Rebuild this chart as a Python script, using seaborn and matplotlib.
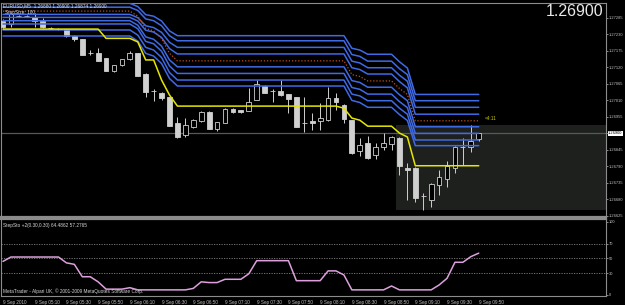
import matplotlib
matplotlib.use("Agg")
import matplotlib.pyplot as plt
import matplotlib.transforms as mtransforms
import seaborn as sns
import numpy as np
import pandas as pd
from matplotlib.patches import Rectangle

# ---------------- data ----------------
bar_times = pd.date_range("2010-09-09 04:50", periods=61, freq="5min")

open_ = [1.27274, 1.27264, 1.27291, 1.27290, 1.27288, 1.27275, 1.27251, 1.27247, 1.27246, 1.27224,
         1.27213, 1.27168, 1.27166, 1.27149, 1.27107, 1.27127, 1.27146, 1.27166, 1.27097, 1.27040,
         1.27035, 1.27019, 1.26932, 1.26893, 1.26919, 1.26941, 1.26969, 1.26913, 1.26934, 1.26982,
         1.26976, 1.26974, 1.27012, 1.27057, 1.27041, 1.27041, 1.27029, 1.27019, 1.26934, 1.26941,
         1.26940, 1.26943, 1.27017, 1.26993, 1.26943, 1.26840, 1.26867, 1.26827, 1.26853, 1.26863,
         1.26883, 1.26783, 1.26783, 1.26690, 1.26676, 1.26726, 1.26746, 1.26783, 1.26853, 1.26853,
         1.26880]
high_ = [1.27281, 1.27301, 1.27294, 1.27294, 1.27300, 1.27283, 1.27253, 1.27249, 1.27248, 1.27227,
         1.27215, 1.27177, 1.27185, 1.27150, 1.27128, 1.27148, 1.27174, 1.27168, 1.27099, 1.27046,
         1.27038, 1.27021, 1.26954, 1.26950, 1.26947, 1.26975, 1.26972, 1.26938, 1.26985, 1.26984,
         1.26978, 1.27049, 1.27077, 1.27060, 1.27046, 1.27077, 1.27031, 1.27021, 1.27019, 1.26967,
         1.27000, 1.27054, 1.27034, 1.26997, 1.26945, 1.26883, 1.26890, 1.26867, 1.26900, 1.26889,
         1.26887, 1.26800, 1.26786, 1.26700, 1.26733, 1.26776, 1.26807, 1.26856, 1.26883, 1.26927,
         1.26900]
low_ = [1.27250, 1.27254, 1.27287, 1.27287, 1.27255, 1.27250, 1.27247, 1.27243, 1.27222, 1.27208,
        1.27159, 1.27160, 1.27140, 1.27106, 1.27104, 1.27125, 1.27144, 1.27089, 1.27021, 1.27008,
        1.27012, 1.26922, 1.26885, 1.26887, 1.26916, 1.26938, 1.26912, 1.26907, 1.26932, 1.26968,
        1.26967, 1.26972, 1.27010, 1.27033, 1.27004, 1.27024, 1.26966, 1.26919, 1.26904, 1.26910,
        1.26910, 1.26940, 1.26977, 1.26933, 1.26830, 1.26823, 1.26813, 1.26813, 1.26843, 1.26843,
        1.26760, 1.26676, 1.26670, 1.26643, 1.26653, 1.26693, 1.26720, 1.26766, 1.26793, 1.26837,
        1.26874]
close_ = [1.27254, 1.27297, 1.27290, 1.27291, 1.27275, 1.27253, 1.27250, 1.27246, 1.27225, 1.27213,
          1.27160, 1.27167, 1.27141, 1.27108, 1.27126, 1.27146, 1.27166, 1.27090, 1.27038, 1.27039,
          1.27016, 1.26923, 1.26886, 1.26927, 1.26943, 1.26971, 1.26914, 1.26936, 1.26982, 1.26970,
          1.26969, 1.27004, 1.27063, 1.27035, 1.27040, 1.27027, 1.27014, 1.26921, 1.26933, 1.26934,
          1.26950, 1.27017, 1.27004, 1.26947, 1.26833, 1.26860, 1.26817, 1.26853, 1.26867, 1.26887,
          1.26790, 1.26776, 1.26683, 1.26689, 1.26730, 1.26753, 1.26790, 1.26853, 1.26854, 1.26873,
          1.26900]

band_1 = [1.27333]*17 + [1.27322, 1.27295, 1.27290, 1.27274, 1.27241] + [1.27225]*22 + [1.27183, 1.27177] + [1.27163]*4 + [1.27138, 1.27117] + [1.27029]*9
band_2 = [1.27320]*17 + [1.27309, 1.27281, 1.27275, 1.27258, 1.27225] + [1.27208]*22 + [1.27162, 1.27156] + [1.27140]*4 + [1.27115, 1.27095] + [1.27008]*9
band_3 = [1.27296]*17 + [1.27285, 1.27258, 1.27252, 1.27236, 1.27203] + [1.27186]*22 + [1.27140, 1.27134] + [1.27118]*4 + [1.27093, 1.27073] + [1.26986]*9
band_4 = [1.27286]*17 + [1.27274, 1.27243, 1.27237, 1.27219, 1.27182] + [1.27164]*22 + [1.27118, 1.27112] + [1.27097]*4 + [1.27072, 1.27051] + [1.26963]*9
band_5 = [1.27275]*17 + [1.27260, 1.27221, 1.27213, 1.27190, 1.27144] + [1.27121]*22 + [1.27075, 1.27069] + [1.27053]*4 + [1.27028, 1.27008] + [1.26921]*9
band_6 = [1.27264]*17 + [1.27248, 1.27206, 1.27198, 1.27173, 1.27124] + [1.27099]*22 + [1.27052, 1.27046] + [1.27030]*4 + [1.27005, 1.26985] + [1.26899]*9
band_7 = [1.27244]*17 + [1.27227, 1.27186, 1.27177, 1.27152, 1.27102] + [1.27077]*22 + [1.27030, 1.27024] + [1.27008]*4 + [1.26983, 1.26963] + [1.26877]*9
band_8 = [1.27224]*17 + [1.27207, 1.27166, 1.27157, 1.27132, 1.27082] + [1.27057]*22 + [1.27009, 1.27002] + [1.26986]*4 + [1.26962, 1.26942] + [1.26858]*9
mid_line = [1.27307]*17 + [1.27290, 1.27249, 1.27241, 1.27216, 1.27166] + [1.27141]*22 + [1.27095, 1.27089] + [1.27074]*4 + [1.27049, 1.27029] + [1.26941]*9
step_ma = [1.27247]*13 + [1.27216]*4 + [1.27204, 1.27144, 1.27144, 1.27077, 1.27027] + [1.26990]*21 + [1.26983, 1.26950, 1.26943] + [1.26923]*4 + [1.26900, 1.26887] + [1.26791]*9

stoch = [46, 52, 52, 52, 52, 52, 52, 52, 44, 42, 25, 25, 18, 8, 8, 8, 10, 7, 7, 7, 7, 7, 7, 7, 9,
         18, 17, 17, 21.5, 21.5, 21.5, 29, 47, 47, 47, 47, 47, 19.6, 19.6, 19.6, 19.6, 33, 33, 27.4,
         7, 7, 7, 7, 7, 12.3, 7, 7, 7, 7, 7, 13.7, 22.8, 44.8, 44.8, 52.5, 57.3]

price_ticks = [1.27285, 1.27230, 1.27175, 1.27120, 1.27065, 1.27010, 1.26955, 1.26900,
               1.26845, 1.26790, 1.26735, 1.26680, 1.26625]
stoch_ticks = [0, 30, 50, 70, 100]
stoch_levels = [30, 50, 70]
time_labels = ["9 Sep 2010", "9 Sep 05:10", "9 Sep 05:30", "9 Sep 05:50", "9 Sep 06:10",
               "9 Sep 06:30", "9 Sep 06:50", "9 Sep 07:10", "9 Sep 07:30", "9 Sep 07:50",
               "9 Sep 08:10", "9 Sep 08:30", "9 Sep 08:50", "9 Sep 09:10", "9 Sep 09:30",
               "9 Sep 09:50"]
bid_price = 1.26900
header_text = "EURUSD,M5  1.26880 1.26900 1.26874 1.26900"
step_text = "StepSize: 100"
stoch_text = "StepSto +2(0.30,0.30) 64.4862 57.2765"
copyright_text = "MetaTrader - Alpari UK, \u00a9 2001-2009 MetaQuotes Software Corp."
timer_text = "<4:11"

# ---------------- frame ----------------
df = pd.DataFrame({"t": bar_times, "open": open_, "high": high_, "low": low_, "close": close_,
                   "b1": band_1, "b2": band_2, "b3": band_3, "b4": band_4, "b5": band_5,
                   "b6": band_6, "b7": band_7, "b8": band_8, "mid": mid_line,
                   "ma": step_ma, "sto": stoch})
df["x"] = np.arange(len(df))

sns.set_theme(style="dark")
plt.rcParams['font.family'] = ['Liberation Sans', 'DejaVu Sans']

BG = "#000000"
GRAY = "#c0c0c0"
CANDLE = "#d0d0d0"
BLUE = "#3f6ae6"
AXFS = 2.9

W, H = 625, 305
def px_rect(x0, y0, x1, y1):
    return [x0 / W, 1 - y1 / H, (x1 - x0) / W, (y1 - y0) / H]

fig = plt.figure(figsize=(6.25, 3.05), dpi=100, facecolor=BG)
ax = fig.add_axes(px_rect(1, 3, 606, 217))
ax2 = fig.add_axes(px_rect(1, 219, 606, 296))

for a in (ax, ax2):
    a.set_facecolor(BG)
    a.grid(False)
    for s in a.spines.values():
        s.set_color("#8c8c8c")
        s.set_linewidth(0.8)
    a.set_xlim(-0.25, 76.05)

ax.spines["bottom"].set_linewidth(1.6)
ax2.spines["top"].set_linewidth(1.6)

# shaded region
ax.add_patch(Rectangle((49.6, 1.26643), 30, 1.26928 - 1.26643, facecolor="#1e201e",
                       edgecolor="none", zorder=0))
# bid line
ax.axhline(bid_price, color="#4d5a60", lw=0.9, zorder=1)

# candles
bull = df["close"] >= df["open"]
ax.vlines(df["x"], df["low"], df["high"], color=CANDLE, lw=0.7, zorder=2)
body_lo = np.minimum(df["open"], df["close"])
body_h = np.maximum(np.abs(df["close"] - df["open"]), 0.000012)
ax.bar(df["x"], body_h, bottom=body_lo, width=0.6,
       color=np.where(bull, BG, CANDLE), edgecolor=CANDLE, linewidth=0.6, zorder=3)

# band lines
for col in ["b1", "b2", "b3", "b4", "b5", "b6", "b7", "b8"]:
    sns.lineplot(data=df, x="x", y=col, ax=ax, color=BLUE, lw=1.1, zorder=4)
sns.lineplot(data=df, x="x", y="mid", ax=ax, color="#c24e1c", lw=0.9, zorder=4,
             linestyle=(0, (1, 1.5)))
sns.lineplot(data=df, x="x", y="ma", ax=ax, color="#e6e600", lw=1.1, zorder=4)

ax.set_ylim(1.26620, 1.27334)
ax.set_xlabel("")
ax.set_ylabel("")
ax.set_xticks([])
ax.yaxis.tick_right()
ax.set_yticks(price_ticks)
ax.set_yticklabels(["" if abs(v - bid_price) < 1e-7 else f"{v:.5f}" for v in price_ticks])
ax.tick_params(axis="y", colors=GRAY, labelsize=AXFS, length=1.5, width=0.5, pad=0.6)

# bid label (replaces the 1.26900 tick label)
trans = mtransforms.blended_transform_factory(ax.transAxes, ax.transData)
ax.text(1.0035, bid_price, f"{bid_price:.5f}", transform=trans, fontsize=AXFS, color="black",
        va="center", ha="left", bbox=dict(boxstyle="square,pad=0.12", fc="white", ec="none"),
        clip_on=False, zorder=10)

# texts
ax.text(0.004, 0.997, header_text, transform=ax.transAxes, fontsize=3.4, color="#e0e0e0",
        va="top", ha="left", zorder=10)
ax.text(0.007, 0.965, step_text, transform=ax.transAxes, fontsize=3.4, color="#e0e0e0",
        va="top", ha="left", zorder=10)
ax.text(0.996, 0.995, f"{bid_price:.5f}", transform=ax.transAxes, fontsize=11.5,
        color="#e8e8e8", va="top", ha="right", zorder=10)
ax.text(60.8, 1.26950, timer_text, fontsize=3.4, color="#c8c800", va="center", ha="left",
        zorder=10)

# stochastic panel
for lv in stoch_levels:
    ax2.axhline(lv, color="#808080", lw=0.6, linestyle=(0, (1.5, 1.5)), zorder=1)
sns.lineplot(data=df, x="x", y="sto", ax=ax2, color="#dda0dd", lw=1.1, zorder=3)
ax2.set_ylim(-1.4, 104.1)
ax2.set_xlabel("")
ax2.set_ylabel("")
ax2.yaxis.tick_right()
ax2.set_yticks(stoch_ticks)
ax2.set_yticklabels([str(v) for v in stoch_ticks])
ax2.tick_params(axis="y", colors=GRAY, labelsize=AXFS, length=1.5, width=0.5, pad=0.6)
ax2.set_xticks(df["x"].iloc[::4])
ax2.set_xticklabels(time_labels, ha="left")
ax2.tick_params(axis="x", colors=GRAY, labelsize=3.3, length=2, width=0.5, pad=1.2)

ax2.text(0.004, 0.95, stoch_text, transform=ax2.transAxes, fontsize=3.4, color="#d8d8d8",
         va="top", ha="left")
ax2.text(0.004, 0.03, copyright_text, transform=ax2.transAxes, fontsize=3.4, color="#d8d8d8",
         va="bottom", ha="left")

fig.savefig("out.png", dpi=100, facecolor=BG)
